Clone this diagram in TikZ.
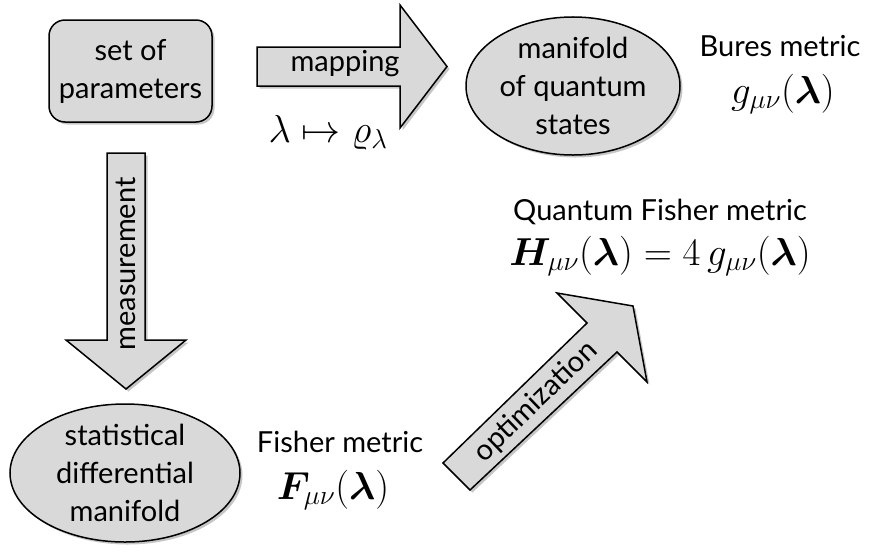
\documentclass[tikz,border=0pt]{standalone}
\usepackage{fix-cm}
\usepackage{amsmath,bm}
\usepackage{fontspec}
\setmainfont{Lato}
\usetikzlibrary{shadows,shapes.geometric}
\tikzset{
  fillgray/.style={fill=black!15, draw=black, line width=1.5pt,
    drop shadow={opacity=0.45, shadow xshift=2.5pt, shadow yshift=-2.5pt}},
  hand/.style={font=\fontsize{29}{38}\selectfont, align=center, inner sep=0pt},
  mathlbl/.style={font=\fontsize{39}{42}\selectfont, inner sep=0pt}
}
\begin{document}
\begin{tikzpicture}[x=1pt,y=-1pt]
\useasboundingbox (0,0) rectangle (870,552);
% boxes
\node[fillgray, hand, rounded corners=16pt, minimum width=163pt, minimum height=102pt] (params) at (130.5,71) {set of\\parameters};
\node[fillgray, hand, ellipse, minimum width=214pt, minimum height=128pt] (quantum) at (573,86) {manifold\\of quantum\\states};
\node[fillgray, hand, ellipse, minimum width=230pt, minimum height=130pt] (stat) at (125,473) {statistical\\differential\\manifold};
% arrows
\draw[fillgray] (257,47) -- (400,47) -- (400,5) -- (447,66.5) -- (400,128) -- (400,86) -- (257,86) -- cycle;
\node[hand] (maplbl) at (345,64) {mapping};
\node[mathlbl] (mapmath) at (328,133) {$\lambda\mapsto\varrho_\lambda$};
\draw[fillgray] (107,153) -- (145,153) -- (145,340) -- (186,340) -- (126,389) -- (66,340) -- (107,340) -- cycle;
\node[hand, rotate=90] (measlbl) at (126,264) {measurement};
\draw[fillgray] (443,463) -- (587,323) -- (557,293) -- (633,306) -- (647,382) -- (617,352) -- (470,490) -- cycle;
\node[hand, rotate=44] (optlbl) at (536,402) {optimization};
% labels
\node[hand] (bures) at (780,46) {Bures metric};
\node[mathlbl] (buresm) at (783,94) {$g_{\mu\nu}(\bm{\lambda})$};
\node[hand] (fisher) at (340,442) {Fisher metric};
\node[mathlbl] (fisherm) at (333,490) {$\bm{F}_{\mu\nu}(\bm{\lambda})$};
\node[hand] (qfisher) at (660,212) {Quantum Fisher metric};
\node[mathlbl] (qfisherm) at (660,256) {$\bm{H}_{\mu\nu}(\bm{\lambda})=4\,g_{\mu\nu}(\bm{\lambda})$};
\end{tikzpicture}
\end{document}
